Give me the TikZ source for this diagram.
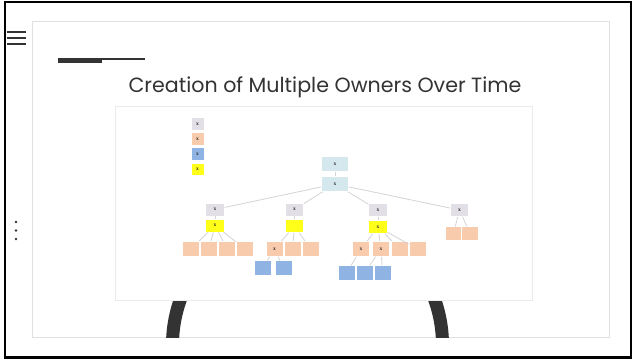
\documentclass[tikz,border=0pt]{standalone}
\usepackage{fontspec}
\setmainfont{Poppins}
\newfontfamily\boxfont{Liberation Serif}
\definecolor{ink}{HTML}{333333}
\definecolor{boxgray}{HTML}{E3DFE6}
\definecolor{boxpeach}{HTML}{F8CBAD}
\definecolor{boxblue}{HTML}{8FB4E3}
\definecolor{boxyellow}{HTML}{FFFF1A}
\definecolor{boxroot}{HTML}{D5E8EE}
\definecolor{treeline}{HTML}{D4D4D4}

\begin{document}
\begin{tikzpicture}[x=1pt, y=-1pt, node distance=18pt,
    cell/.style={rectangle, draw=white, line width=0.6pt, inner sep=0pt, minimum width=17pt, minimum height=14pt, font=\boxfont\fontsize{5.5}{5.5}\selectfont\bfseries, text=ink},
    gcell/.style={cell, fill=boxgray, minimum width=18.5pt, minimum height=13pt},
    ycell/.style={cell, fill=boxyellow, minimum width=18.5pt, minimum height=13pt},
    pcell/.style={cell, fill=boxpeach, minimum height=15pt},
    bcell/.style={cell, fill=boxblue, minimum height=14.5pt},
    rcell/.style={cell, fill=boxroot, minimum width=27pt, minimum height=15pt},
    kcell/.style={cell, minimum width=13pt, minimum height=12.5pt},
    edge/.style={draw=treeline, line width=0.8pt}]
  \useasboundingbox (0,0) rectangle (634,360);
  \draw [black, line width=2.5pt] (5,2) rectangle (631,357.3);
  \draw [ink, line width=2pt] (7,32) -- (26,32) (7,38) -- (26,38) (7,44) -- (26,44);
  \fill [ink] (16,222) circle (1.3) (16,230.5) circle (1.3) (16,239) circle (1.3);
  \draw [black!12, fill=white, line width=0.8pt] (32,21.5) rectangle (609.5,337.5);
  \fill [ink] (58,58.3) rectangle (102,63.3);
  \draw [ink, line width=2pt] (102,59.3) -- (145,59.3);
  \node (title) [text=ink, font=\fontsize{20.6}{20.6}\selectfont] at (325,87.5) {Creation of Multiple Owners Over Time};
  \begin{scope}
    \clip (32,21.5) rectangle (609.5,337);
    \draw [ink, line width=13pt] (307.5,345) circle (135);
  \end{scope}
  \draw [black!8, fill=white, line width=0.8pt] (115,106) rectangle (532.5,300);

  \node (key1) [kcell, fill=boxgray] at (197.5,124) {x};
  \node (key2) [kcell, fill=boxpeach, node distance=15pt, below of=key1] {x};
  \node (key3) [kcell, fill=boxblue, node distance=15pt, below of=key2] {x};
  \node (key4) [kcell, fill=boxyellow, node distance=15.5pt, below of=key3] {x};

  \node (root) [rcell] at (335,164) {x};
  \node (rootb) [rcell, node distance=20pt, below of=root] {x};

  \node (agray) [gcell] at (215,209.5) {x};
  \node (ayel) [ycell, node distance=16pt, below of=agray] {x};
  \node (ap1) [pcell] at (191,249) {};
  \node (ap2) [pcell, right of=ap1] {};
  \node (ap3) [pcell, right of=ap2] {};
  \node (ap4) [pcell, right of=ap3] {};

  \node (bgray) [gcell] at (294.5,209.5) {x};
  \node (byel) [ycell, node distance=16.5pt, below of=bgray] {};
  \node (bp1) [pcell] at (274.5,249) {x};
  \node (bp2) [pcell, right of=bp1] {};
  \node (bp3) [pcell, right of=bp2] {};
  \node (bb1) [bcell] at (262.5,268) {};
  \node (bb2) [bcell, node distance=21pt, right of=bb1] {};

  \node (cgray) [gcell] at (378,210) {x};
  \node (cyel) [ycell, node distance=17pt, below of=cgray] {x};
  \node (cp1) [pcell] at (361,249) {x};
  \node (cp2) [pcell, node distance=20pt, right of=cp1] {x};
  \node (cp3) [pcell, node distance=19pt, right of=cp2] {};
  \node (cp4) [pcell, node distance=17.5pt, right of=cp3] {};
  \node (cb1) [bcell] at (346.5,273) {};
  \node (cb2) [bcell, right of=cb1] {};
  \node (cb3) [bcell, right of=cb2] {};

  \node (dgray) [gcell] at (459.5,210) {x};
  \node (dp1) [pcell, minimum height=13.5pt] at (453.5,233.5) {};
  \node (dp2) [pcell, minimum height=13.5pt, node distance=16.5pt, right of=dp1] {};

  \draw [edge] (root) -- (rootb);
  \draw [edge] (rootb) -- (agray);
  \draw [edge] (rootb) -- (bgray);
  \draw [edge] (rootb) -- (cgray);
  \draw [edge] (rootb) -- (dgray);
  \draw [edge] (agray) -- (ayel);
  \draw [edge] (ayel) -- (ap1);
  \draw [edge] (ayel) -- (ap2);
  \draw [edge] (ayel) -- (ap3);
  \draw [edge] (ayel) -- (ap4);
  \draw [edge] (bgray) -- (byel);
  \draw [edge] (byel) -- (bp1);
  \draw [edge] (byel) -- (bp2);
  \draw [edge] (byel) -- (bp3);
  \draw [edge] (bp1) -- (bb1);
  \draw [edge] (bp1) -- (bb2);
  \draw [edge] (cgray) -- (cyel);
  \draw [edge] (cyel) -- (cp1);
  \draw [edge] (cyel) -- (cp2);
  \draw [edge] (cyel) -- (cp3);
  \draw [edge] (cyel) -- (cp4);
  \draw [edge] (cp1) -- (cb1);
  \draw [edge] (cp2) -- (cb2);
  \draw [edge] (cp2) -- (cb3);
  \draw [edge] (dgray) -- (dp1);
  \draw [edge] (dgray) -- (dp2);
\end{tikzpicture}
\end{document}
